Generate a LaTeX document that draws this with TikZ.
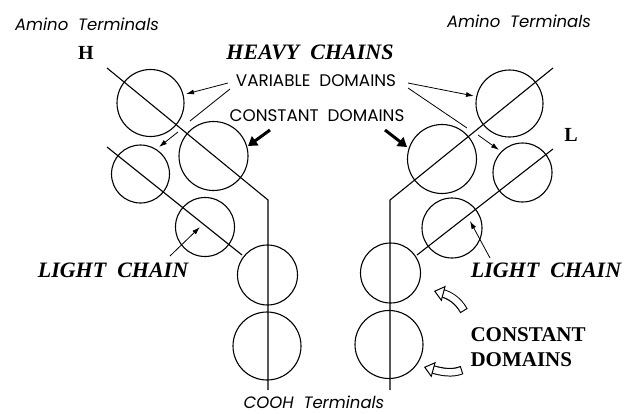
\documentclass[tikz,border=0pt]{standalone}
\usepackage{fontspec}
\usetikzlibrary{arrows.meta}
\newfontfamily\geosans{Poppins}
\newfontfamily\chainserif{Liberation Serif}
\tikzset{
  dom/.style={circle, draw, line width=1.1pt, inner sep=0pt},
  chain/.style={line width=1.1pt},
  thinarrow/.style={line width=0.8pt, -{Latex[length=8pt,width=5pt]}},
  thinline/.style={line width=0.8pt},
  boldarrow/.style={line width=3pt, -{Triangle[length=9pt,width=11pt]}},
  sanslbl/.style={font=\geosans\fontsize{16.8}{16.8}\selectfont},
  termlbl/.style={font=\geosans\itshape\fontsize{16.5}{16.5}\selectfont},
  seriflbl/.style={font=\chainserif\bfseries\itshape\fontsize{22}{22}\selectfont},
  chainlbl/.style={font=\chainserif\bfseries\fontsize{20}{20}\selectfont},
  constlbl/.style={font=\chainserif\bfseries\fontsize{21}{25}\selectfont, align=left},
}
% hollow curved arrow: black outline, white body, open head
\newcommand{\hollowarrow}[1]{%
  \draw[line width=8.6pt, shorten >=8pt] #1;
  \draw[white, line width=6.4pt, shorten <=1.1pt,
        -{Triangle[length=10pt,width=16pt,line width=1pt,color=black,fill=white]}] #1;
}
\begin{document}
\begin{tikzpicture}[x=1pt, y=-1pt]
\useasboundingbox (0,0) rectangle (624,413);

% ---- terminal captions ----
\node[termlbl] (aminoL) at (87,24) {Amino\ \ Terminals};
\node[termlbl] (aminoR) at (519,21) {Amino\ \ Terminals};
\node[termlbl, anchor=base, inner sep=0pt] (cooh) at (314,408) {COOH\ \ Terminals};

% ---- chain letters ----
\node[chainlbl] (H) at (86,53) {H};
\node[chainlbl] (L) at (571,135) {L};

% ---- domains, left molecule half ----
\node[dom, minimum size=67pt] (hv1) at (150.5,103) {};
\node[dom, minimum size=69pt] (hc1) at (213.5,156) {};
\node[dom, minimum size=58pt] (lv1) at (140.5,174) {};
\node[dom, minimum size=59pt] (lc1) at (205,227) {};
\node[dom, minimum size=60pt] (hb1) at (267.5,275) {};
\node[dom, minimum size=68pt] (hb2) at (267,346) {};

% ---- domains, right molecule half ----
\node[dom, minimum size=67pt] (hv2) at (509.5,103.5) {};
\node[dom, minimum size=69pt] (hc2) at (442,159) {};
\node[dom, minimum size=59pt] (lv2) at (522.5,172.5) {};
\node[dom, minimum size=60pt] (lc2) at (452,228) {};
\node[dom, minimum size=60pt] (hb3) at (390.5,273) {};
\node[dom, minimum size=68pt] (hb4) at (389,344.5) {};

% ---- polypeptide chains ----
\coordinate (hLs) at (107,68);  \coordinate (hLk) at (268,200); \coordinate (hLe) at (268,390);
\coordinate (lLs) at (107,147); \coordinate (lLe) at (242,255);
\coordinate (hRs) at (553,68);  \coordinate (hRk) at (390,200); \coordinate (hRe) at (390,390);
\coordinate (lRs) at (553,149); \coordinate (lRe) at (417,255);
\draw[chain] (hLs) -- (hLk) -- (hLe);
\draw[chain] (lLs) -- (lLe);
\draw[chain] (hRs) -- (hRk) -- (hRe);
\draw[chain] (lRs) -- (lRe);

% ---- central labels ----
\node[seriflbl] (heavy) at (310,52) {HEAVY\ \ CHAINS};
\node[sanslbl] (var) at (316,81) {VARIABLE\ \ DOMAINS};
\node[sanslbl] (const) at (317,116) {CONSTANT\ \ DOMAINS};

% variable-domain pointers
\coordinate (vA) at (228,83);  \coordinate (vAe) at (186,94);
\coordinate (vB) at (230,89);  \coordinate (vBm) at (190,121);
\coordinate (vBn) at (178,132); \coordinate (vBe) at (159,147);
\draw[thinarrow] (vA) -- (vAe);
\draw[thinline] (vB) -- (vBm);
\draw[thinarrow] (vBn) -- (vBe);
\coordinate (wA) at (408,83);  \coordinate (wAe) at (474,96);
\coordinate (wB) at (408,88);  \coordinate (wBm) at (467,128);
\coordinate (wBn) at (478,135); \coordinate (wBe) at (499,150);
\draw[thinarrow] (wA) -- (wAe);
\draw[thinline] (wB) -- (wBm);
\draw[thinarrow] (wBn) -- (wBe);

% constant-domain pointers
\coordinate (cA) at (270,130); \coordinate (cAe) at (248,146);
\coordinate (cB) at (385,130); \coordinate (cBe) at (407,147);
\draw[boldarrow] (cA) -- (cAe);
\draw[boldarrow] (cB) -- (cBe);

% ---- light chain labels ----
\node[seriflbl] (lightL) at (113,270) {LIGHT\ \ CHAIN};
\node[seriflbl] (lightR) at (546,270) {LIGHT\ \ CHAIN};
\coordinate (ltA) at (170,256); \coordinate (ltAe) at (200,227);
\coordinate (ltB) at (490,258); \coordinate (ltBe) at (470,221);
\draw[thinarrow] (ltA) -- (ltAe);
\draw[thinarrow] (ltB) -- (ltBe);

% ---- constant domains of the stem ----
\node[constlbl, anchor=west] (stem) at (467,347) {CONSTANT\\DOMAINS};
\hollowarrow{(464,311) .. controls (458,300) and (449,295) .. (434,291)}
\hollowarrow{(462,370) .. controls (452,374) and (442,372) .. (424,367)}
\end{tikzpicture}
\end{document}
